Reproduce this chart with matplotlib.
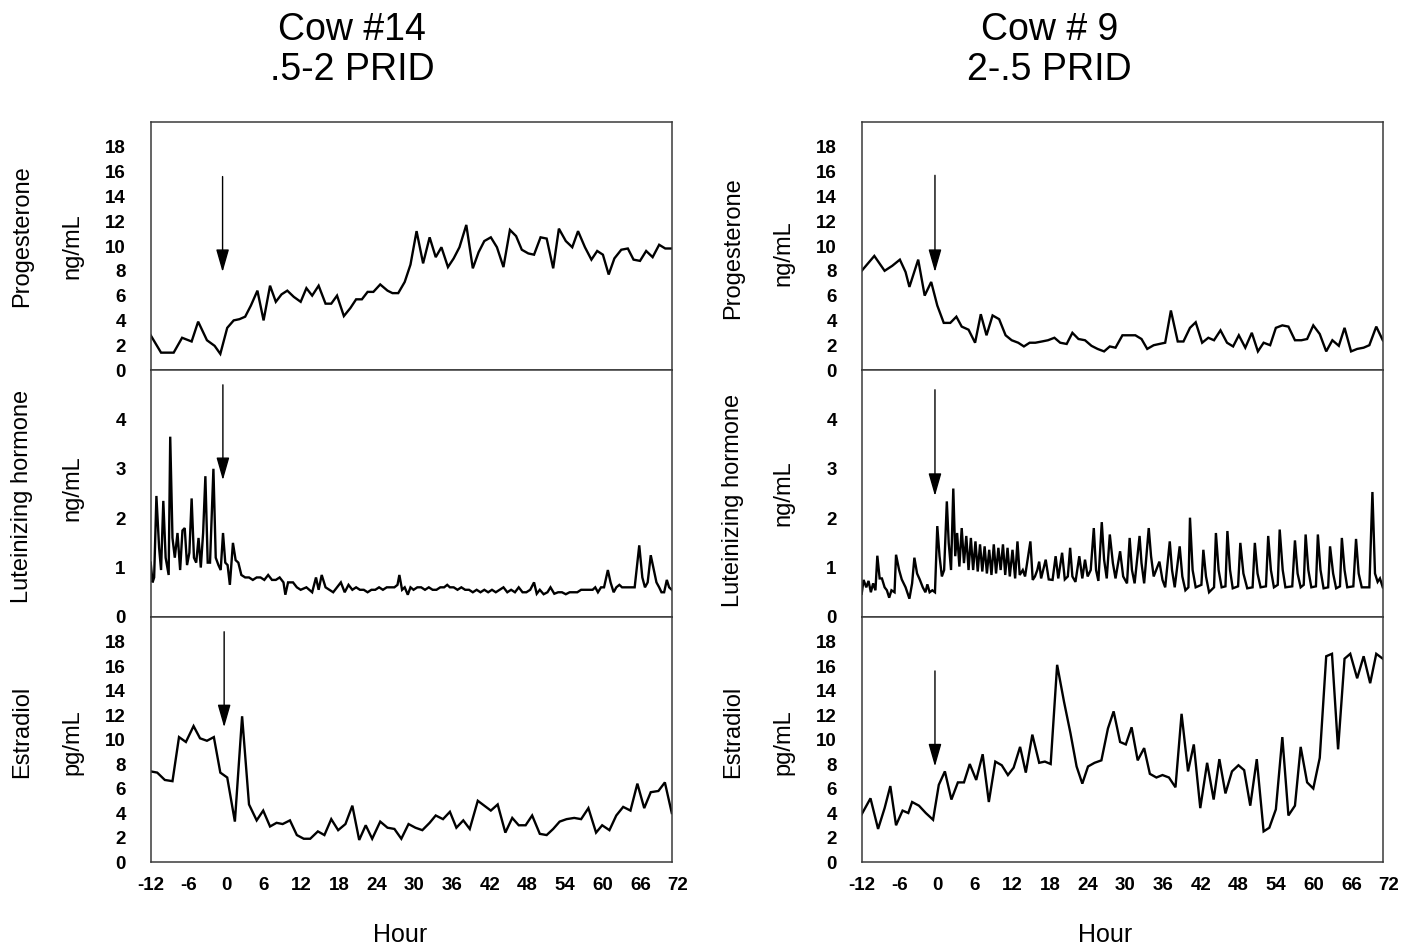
import matplotlib
matplotlib.use('Agg')
import matplotlib.pyplot as plt

plt.rcParams['font.family'] = ['Liberation Sans', 'DejaVu Sans']

# ---------------- Cow #14 (.5-2 PRID) ----------------
prog14_h = [-12.0, -10.35, -8.34, -7.0, -5.48, -4.44, -3.04, -1.82, -0.91, 0.19,
            1.22, 2.14, 3.05, 3.96, 5.0, 5.98, 7.01, 7.93, 8.84, 9.76,
            10.79, 11.89, 12.80, 13.72, 14.75, 15.85, 16.76, 17.68, 18.77, 19.81,
            20.72, 21.64, 22.55, 23.47, 24.56, 25.72, 26.51, 27.43, 28.46, 29.38,
            30.35, 31.39, 32.43, 33.40, 34.31, 35.35, 36.26, 37.18, 38.27, 39.31,
            40.23, 41.14, 42.18, 43.15, 44.19, 45.22, 46.20, 47.11, 48.15, 49.06,
            50.10, 51.07, 52.11, 53.02, 54.12, 55.15, 56.07, 57.17, 58.20, 59.12,
            60.03, 60.95, 61.86, 62.96, 64.0, 64.91, 65.94, 66.92, 67.95, 68.99,
            69.96, 71.0]
prog14 = [2.8, 1.4, 1.4, 2.6, 2.3, 3.9, 2.4, 1.95, 1.3, 3.4,
          4.0, 4.1, 4.3, 5.2, 6.4, 4.0, 6.8, 5.5, 6.1, 6.4,
          5.9, 5.5, 6.6, 6.0, 6.8, 5.35, 5.35, 6.0, 4.35, 5.0,
          5.7, 5.7, 6.3, 6.3, 6.9, 6.4, 6.2, 6.2, 7.1, 8.5,
          11.2, 8.6, 10.7, 9.1, 9.9, 8.3, 9.0, 9.9, 11.7, 8.2,
          9.5, 10.4, 10.7, 9.9, 8.3, 11.3, 10.8, 9.7, 9.4, 9.3,
          10.7, 10.6, 8.2, 11.4, 10.4, 9.9, 11.2, 9.9, 8.9, 9.6,
          9.3, 7.7, 9.0, 9.7, 9.8, 8.9, 8.8, 9.6, 9.1, 10.1,
          9.8, 9.8]

lh14_h = [-12.0, -11.70, -11.45, -11.09, -10.66, -10.35, -9.99, -9.62, -9.14, -8.89,
          -8.53, -8.16, -7.73, -7.31, -6.94, -6.58, -6.21, -5.84, -5.48, -5.11,
          -4.75, -4.38, -4.02, -3.65, -3.29, -2.92, -2.55, -2.01, -1.64, -1.21,
          -0.85, -0.48, -0.12, 0.25, 0.61, 1.10, 1.53, 1.96, 2.44, 3.05,
          3.66, 4.27, 4.88, 5.49, 6.10, 6.71, 7.32, 7.93, 8.54, 9.15,
          9.45, 9.88, 10.67, 11.28, 11.89, 12.80, 13.72, 14.33, 14.75, 15.24,
          15.85, 16.46, 17.07, 17.68, 18.29, 18.90, 19.51, 20.12, 20.72, 21.33,
          21.94, 22.55, 23.16, 23.77, 24.38, 24.99, 25.60, 26.21, 26.82, 27.31,
          27.61, 28.04, 28.46, 28.95, 29.38, 29.87, 30.47, 31.08, 31.69, 32.30,
          32.91, 33.52, 34.13, 34.74, 35.23, 35.66, 36.26, 36.87, 37.48, 38.09,
          38.70, 39.31, 39.92, 40.53, 41.14, 41.75, 42.36, 42.97, 43.58, 44.19,
          44.80, 45.41, 46.02, 46.62, 47.23, 47.84, 48.45, 49.06, 49.49, 49.98,
          50.59, 51.20, 51.68, 52.29, 52.90, 53.51, 54.12, 54.73, 55.34, 55.95,
          56.56, 57.17, 57.78, 58.39, 58.81, 59.24, 59.73, 60.21, 60.82, 61.25,
          61.74, 62.17, 62.65, 63.08, 63.51, 63.99, 64.48, 65.09, 65.82, 66.31,
          66.73, 67.16, 67.65, 68.14, 68.56, 68.99, 69.36, 69.78, 70.21, 70.58,
          71.0]
lh14 = [1.1, 0.7, 0.8, 2.45, 1.4, 0.95, 2.35, 1.2, 0.85, 3.65,
        1.6, 1.2, 1.7, 0.95, 1.75, 1.8, 1.05, 1.3, 2.4, 1.2,
        1.1, 1.6, 1.0, 1.7, 2.85, 1.1, 1.1, 3.0, 1.2, 1.05,
        0.95, 1.7, 1.1, 1.05, 0.65, 1.5, 1.15, 1.1, 0.85, 0.8,
        0.8, 0.75, 0.8, 0.8, 0.75, 0.85, 0.75, 0.75, 0.8, 0.7,
        0.45, 0.7, 0.7, 0.6, 0.55, 0.6, 0.5, 0.8, 0.55, 0.85,
        0.6, 0.55, 0.5, 0.6, 0.7, 0.5, 0.65, 0.55, 0.6, 0.55,
        0.55, 0.5, 0.55, 0.55, 0.6, 0.55, 0.6, 0.6, 0.6, 0.65,
        0.85, 0.55, 0.6, 0.45, 0.6, 0.55, 0.6, 0.6, 0.55, 0.6,
        0.55, 0.55, 0.6, 0.6, 0.65, 0.6, 0.6, 0.55, 0.6, 0.55,
        0.55, 0.5, 0.55, 0.5, 0.55, 0.5, 0.55, 0.5, 0.55, 0.6,
        0.5, 0.55, 0.5, 0.6, 0.5, 0.5, 0.55, 0.7, 0.47, 0.55,
        0.46, 0.5, 0.6, 0.47, 0.5, 0.5, 0.46, 0.5, 0.5, 0.5,
        0.55, 0.55, 0.55, 0.55, 0.6, 0.5, 0.6, 0.6, 0.95, 0.7,
        0.5, 0.6, 0.65, 0.6, 0.6, 0.6, 0.6, 0.6, 1.45, 0.8,
        0.6, 0.7, 1.25, 0.95, 0.7, 0.6, 0.5, 0.5, 0.75, 0.6,
        0.55]

est14_h = [-12.0, -10.96, -9.75, -8.53, -7.49, -6.39, -5.17, -4.14, -3.04, -1.94,
           -0.91, 0.19, 1.41, 2.56, 3.66, 4.88, 5.92, 7.01, 8.05, 9.02,
           10.18, 11.28, 12.38, 13.41, 14.63, 15.67, 16.76, 17.86, 19.02, 20.12,
           21.21, 22.25, 23.28, 24.56, 25.72, 26.82, 27.92, 29.07, 30.17, 31.27,
           32.43, 33.40, 34.56, 35.66, 36.69, 37.79, 38.82, 40.10, 41.14, 42.18,
           43.27, 44.49, 45.59, 46.62, 47.72, 48.76, 49.98, 51.07, 52.11, 53.14,
           54.24, 55.46, 56.56, 57.72, 58.94, 59.91, 61.07, 62.16, 63.26, 64.42,
           65.52, 66.61, 67.65, 68.87, 69.90, 71.0]
est14 = [7.4, 7.3, 6.7, 6.6, 10.2, 9.8, 11.1, 10.1, 9.9, 10.2,
         7.3, 6.9, 3.3, 11.9, 4.7, 3.4, 4.2, 2.9, 3.2, 3.1,
         3.4, 2.2, 1.9, 1.9, 2.5, 2.2, 3.5, 2.6, 3.1, 4.6,
         1.8, 3.0, 1.9, 3.3, 2.8, 2.7, 1.9, 3.1, 2.8, 2.6,
         3.2, 3.8, 3.5, 4.1, 2.8, 3.4, 2.7, 5.0, 4.6, 4.2,
         4.7, 2.4, 3.6, 3.0, 3.0, 3.8, 2.3, 2.2, 2.7, 3.3,
         3.5, 3.6, 3.5, 4.4, 2.4, 3.0, 2.6, 3.8, 4.5, 4.2,
         6.4, 4.4, 5.7, 5.8, 6.5, 4.0]

# ---------------- Cow # 9 (2-.5 PRID) ----------------
prog9_h = [-12.0, -9.99, -8.35, -7.14, -5.92, -5.01, -4.40, -3.0, -1.97, -0.93,
           0.04, 1.07, 2.11, 3.08, 3.93, 5.02, 6.06, 6.97, 7.88, 8.85,
           9.89, 10.92, 11.89, 12.93, 13.84, 14.75, 15.66, 16.70, 17.67, 18.70,
           19.62, 20.65, 21.56, 22.53, 23.57, 24.60, 25.57, 26.61, 27.52, 28.43,
           29.53, 30.56, 31.59, 32.57, 33.48, 34.51, 35.42, 36.34, 37.25, 38.34,
           39.25, 40.29, 41.2, 42.23, 43.21, 44.12, 45.15, 46.19, 47.16, 48.07,
           49.10, 50.14, 51.11, 52.02, 53.06, 53.97, 55.0, 55.97, 57.01, 58.04,
           58.95, 59.93, 60.96, 61.99, 62.97, 64.0, 64.91, 65.95, 66.92, 67.95,
           68.86, 69.96, 71.0]
prog9 = [8.0, 9.2, 8.0, 8.4, 8.9, 7.9, 6.7, 8.9, 6.0, 7.1,
         5.2, 3.8, 3.8, 4.3, 3.5, 3.25, 2.2, 4.5, 2.8, 4.4,
         4.1, 2.8, 2.4, 2.2, 1.9, 2.2, 2.2, 2.3, 2.4, 2.6,
         2.2, 2.1, 3.0, 2.5, 2.4, 1.95, 1.7, 1.5, 1.9, 1.8,
         2.8, 2.8, 2.8, 2.5, 1.7, 2.0, 2.1, 2.2, 4.8, 2.3,
         2.3, 3.4, 3.85, 2.2, 2.6, 2.4, 3.2, 2.2, 1.9, 2.8,
         1.8, 3.0, 1.5, 2.2, 2.0, 3.4, 3.6, 3.5, 2.4, 2.4,
         2.5, 3.6, 2.9, 1.5, 2.4, 1.95, 3.4, 1.5, 1.7, 1.8,
         2.0, 3.5, 2.4]

lh9_h = [-12.0, -11.70, -11.27, -10.91, -10.54, -10.18, -9.81, -9.51, -9.14, -8.78,
         -8.35, -7.99, -7.62, -7.26, -6.77, -6.53, -6.04, -5.62, -5.01, -4.40,
         -3.97, -3.61, -3.18, -2.76, -2.27, -1.85, -1.54, -1.18, -0.75, -0.33,
         0.04, 0.40, 0.77, 1.13, 1.56, 1.86, 2.23, 2.59, 2.90, 3.20,
         3.56, 3.93, 4.29, 4.66, 5.02, 5.39, 5.75, 6.12, 6.48, 6.85,
         7.21, 7.58, 7.94, 8.31, 8.67, 9.04, 9.40, 9.77, 10.13, 10.50,
         10.86, 11.23, 11.59, 12.02, 12.44, 12.81, 13.17, 13.66, 14.02, 14.87,
         15.24, 15.60, 15.97, 16.27, 16.58, 17.31, 17.79, 18.40, 18.89, 19.31,
         19.92, 20.35, 20.83, 21.20, 21.56, 22.05, 22.66, 23.14, 23.57, 23.99,
         24.48, 24.97, 25.33, 25.70, 26.24, 26.61, 27.03, 27.52, 28.01, 28.43,
         29.16, 29.65, 30.26, 30.68, 31.05, 31.47, 32.26, 32.57, 32.99, 33.72,
         34.09, 34.51, 35.42, 35.91, 36.34, 37.07, 37.43, 37.86, 38.65, 39.07,
         39.56, 40.04, 40.29, 40.71, 41.20, 42.11, 42.42, 42.84, 43.33, 44.12,
         44.42, 44.85, 45.33, 45.94, 46.25, 46.67, 47.10, 47.95, 48.31, 48.80,
         49.41, 50.26, 50.62, 51.05, 51.54, 52.39, 52.75, 53.18, 53.66, 54.27,
         54.58, 55.06, 55.49, 56.58, 57.01, 57.43, 57.92, 58.41, 58.71, 59.14,
         59.62, 60.35, 60.66, 61.08, 61.57, 62.30, 62.60, 63.09, 63.57, 64.18,
         64.48, 64.91, 65.34, 66.31, 66.74, 67.16, 67.65, 68.86, 69.35, 69.76,
         70.18, 70.55, 71.0]
lh9 = [0.47, 0.75, 0.6, 0.73, 0.5, 0.68, 0.54, 1.24, 0.78, 0.78,
       0.6, 0.54, 0.39, 0.54, 0.5, 1.26, 0.95, 0.76, 0.6, 0.37,
       0.68, 1.2, 0.88, 0.76, 0.6, 0.5, 0.66, 0.5, 0.54, 0.5,
       1.84, 1.23, 0.82, 0.95, 2.34, 1.5, 0.95, 2.6, 1.23, 1.7,
       1.02, 1.8, 1.09, 1.64, 0.95, 1.6, 0.95, 1.53, 0.92, 1.47,
       0.92, 1.43, 0.88, 1.36, 0.85, 1.47, 0.88, 1.4, 0.95, 1.47,
       0.85, 1.4, 0.82, 1.36, 0.78, 1.53, 0.85, 0.95, 0.82, 1.53,
       0.75, 0.82, 0.95, 1.12, 0.78, 1.16, 0.76, 0.75, 1.23, 0.78,
       1.3, 0.76, 0.82, 1.4, 0.82, 0.71, 1.23, 0.78, 1.16, 0.82,
       0.95, 1.8, 0.95, 0.73, 1.92, 1.16, 0.78, 1.67, 1.09, 0.78,
       1.33, 0.82, 0.68, 1.6, 0.95, 0.68, 1.64, 1.09, 0.68, 1.8,
       1.23, 0.82, 1.12, 0.75, 0.6, 1.53, 0.95, 0.6, 1.43, 0.82,
       0.54, 0.6, 2.01, 0.95, 0.6, 0.65, 1.36, 0.82, 0.5, 0.6,
       1.7, 0.95, 0.6, 0.62, 1.74, 0.95, 0.58, 0.62, 1.5, 0.88,
       0.58, 0.6, 1.5, 0.88, 0.6, 0.62, 1.64, 0.95, 0.6, 0.65,
       1.77, 0.95, 0.6, 0.62, 1.55, 0.88, 0.6, 0.65, 1.67, 0.95,
       0.6, 0.62, 1.67, 0.95, 0.58, 0.6, 1.43, 0.88, 0.58, 0.62,
       1.6, 0.95, 0.6, 0.62, 1.58, 0.88, 0.6, 0.6, 2.53, 0.88,
       0.71, 0.78, 0.6]

est9_h = [-12.0, -10.60, -9.39, -8.35, -7.44, -6.53, -5.49, -4.58, -3.97, -2.88,
          -1.79, -0.63, 0.28, 1.25, 2.29, 3.32, 4.29, 5.21, 6.24, 7.27,
          8.25, 9.28, 10.31, 11.29, 12.20, 13.23, 14.14, 15.18, 16.27, 17.18,
          18.10, 19.13, 20.22, 21.26, 22.23, 23.14, 24.05, 25.09, 26.18, 27.22,
          28.13, 29.16, 30.07, 30.99, 31.96, 32.99, 33.90, 34.94, 35.91, 36.94,
          37.98, 38.95, 39.98, 40.90, 41.93, 43.02, 44.06, 44.97, 45.94, 46.98,
          48.01, 48.92, 49.89, 50.93, 52.02, 52.93, 53.97, 55.0, 55.97, 57.01,
          57.92, 58.95, 59.93, 60.96, 61.99, 62.91, 63.88, 64.91, 65.82, 66.92,
          67.95, 68.99, 69.96, 71.0]
est9 = [3.9, 5.2, 2.7, 4.4, 6.2, 3.0, 4.2, 4.0, 4.9, 4.6,
        4.0, 3.45, 6.3, 7.4, 5.1, 6.5, 6.5, 8.0, 6.7, 8.8,
        4.9, 8.2, 7.9, 7.1, 7.7, 9.4, 7.3, 10.4, 8.1, 8.2,
        8.0, 16.1, 13.1, 10.5, 7.8, 6.4, 7.8, 8.1, 8.3, 10.9,
        12.3, 9.8, 9.6, 11.0, 8.3, 9.3, 7.2, 6.9, 7.1, 6.9,
        6.1, 12.1, 7.4, 9.6, 4.4, 8.1, 5.1, 8.4, 5.6, 7.4,
        7.9, 7.5, 4.6, 8.4, 2.5, 2.8, 4.3, 10.2, 3.8, 4.6,
        9.4, 6.5, 6.0, 8.5, 16.8, 17.0, 9.2, 16.6, 17.0, 15.0,
        16.8, 14.6, 17.0, 16.6]

# PRID arrows: hour, top of shaft, arrow tip (per panel, top to bottom)
arrow14_x = [-0.55, -0.5, -0.3]
arrow14_top = [15.6, 4.7, 18.8]
arrow14_tip = [7.9, 2.77, 11.0]
arrow9_x = [-0.33, -0.33, -0.33]
arrow9_top = [15.7, 4.6, 15.6]
arrow9_tip = [7.9, 2.45, 7.8]

hour_ticks = [-12, -6, 0, 6, 12, 18, 24, 30, 36, 42, 48, 54, 60, 66, 72]
panel_names = ['Progesterone', 'Luteinizing hormone', 'Estradiol']
panel_units = ['ng/mL', 'ng/mL', 'pg/mL']
panel_ymax = [20, 5, 20]
panel_yticks = [range(0, 19, 2), range(0, 5), range(0, 19, 2)]

cows = [
    dict(title='Cow #14\n.5-2 PRID', series=[(prog14_h, prog14), (lh14_h, lh14), (est14_h, est14)],
         ax=arrow14_x, atop=arrow14_top, atip=arrow14_tip, left=0.1068, tx=0.2495, hx=0.2835,
         name_y=[0.54, 0.49, 0.53], unit_y=[0.50, 0.52, 0.49]),
    dict(title='Cow # 9\n2-.5 PRID', series=[(prog9_h, prog9), (lh9_h, lh9), (est9_h, est9)],
         ax=arrow9_x, atop=arrow9_top, atip=arrow9_tip, left=0.6107, tx=0.744, hx=0.783,
         name_y=[0.49, 0.47, 0.53], unit_y=[0.47, 0.50, 0.49]),
]

width = 0.3693
rows = [(0.6097, 0.2616), (0.3492, 0.2605), (0.0907, 0.2584)]
tick_size = 13.5

fig = plt.figure(figsize=(14.11, 9.48), dpi=100)

for cow in cows:
    for r in range(3):
        bottom, height = rows[r]
        ax = fig.add_axes([cow['left'], bottom, width, height])
        hrs, vals = cow['series'][r]
        ax.plot(hrs, vals, color='black', lw=1.7, solid_joinstyle='miter')
        ax.set_xlim(-12, 71)
        ax.set_ylim(0, panel_ymax[r])
        ax.set_yticks(list(panel_yticks[r]))
        ax.tick_params(axis='both', length=0, labelsize=tick_size)
        ax.tick_params(axis='y', pad=18)
        ax.tick_params(axis='x', pad=11)
        for lbl in ax.get_yticklabels():
            lbl.set_fontweight('bold')
        for sp in ax.spines.values():
            sp.set_color('#3a3a3a')
            sp.set_linewidth(1.1)

        if r == 2:
            ax.set_xticks(hour_ticks[:-1])
            ax.set_xticklabels([str(t) for t in hour_ticks[:-1]], fontweight='bold')
            # last label sits one hour beyond the end of the data
            ax.annotate(str(hour_ticks[-1]), xy=(hour_ticks[-1], 0), xycoords=('data', 'axes fraction'),
                        xytext=(0, -11), textcoords='offset points', ha='center', va='top',
                        fontsize=tick_size, fontweight='bold', annotation_clip=False)
        else:
            ax.set_xticks([])

        ax.text(-0.247, cow['name_y'][r], panel_names[r], rotation=90, transform=ax.transAxes,
                ha='center', va='center', fontsize=17)
        ax.text(-0.151, cow['unit_y'][r], panel_units[r], rotation=90, transform=ax.transAxes,
                ha='center', va='center', fontsize=17)

        ax.annotate('', xy=(cow['ax'][r], cow['atip'][r]), xytext=(cow['ax'][r], cow['atop'][r]),
                    arrowprops=dict(arrowstyle='-|>,head_length=0.7,head_width=0.2',
                                    mutation_scale=20, color='black', lw=1.0,
                                    shrinkA=0, shrinkB=0))

    fig.text(cow['tx'], 0.947, cow['title'], ha='center', va='center', fontsize=27, linespacing=1.15)
    fig.text(cow['hx'], 0.0137, 'Hour', ha='center', va='center', fontsize=18)

fig.savefig('out.png', dpi=100)
